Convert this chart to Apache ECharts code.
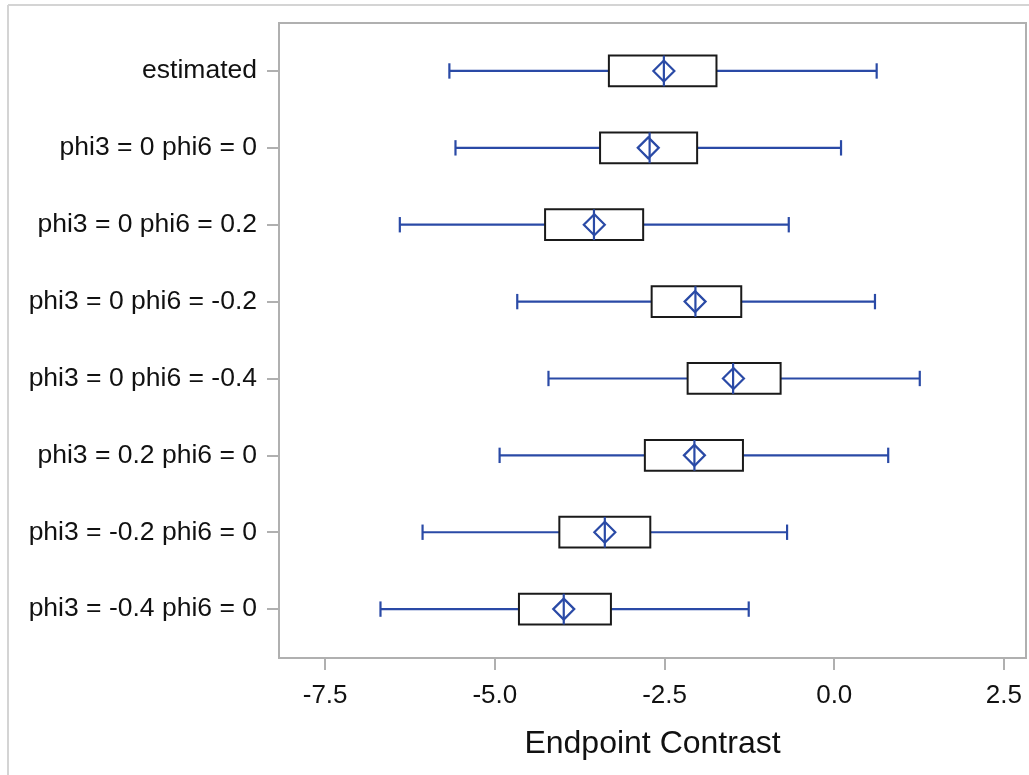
<!DOCTYPE html>
<html>
<head>
<meta charset="utf-8">
<script src="https://cdn.jsdelivr.net/npm/echarts@6/dist/echarts.min.js"></script>
<style>
html,body{margin:0;padding:0;background:#fff;}
#chart{width:1029px;height:775px;}
</style>
</head>
<body>
<div id="chart"></div>
<script>
// Categories (top to bottom)
var categories = [
  'estimated',
  'phi3 = 0 phi6 = 0',
  'phi3 = 0 phi6 = 0.2',
  'phi3 = 0 phi6 = -0.2',
  'phi3 = 0 phi6 = -0.4',
  'phi3 = 0.2 phi6 = 0',
  'phi3 = -0.2 phi6 = 0',
  'phi3 = -0.4 phi6 = 0'
];
// Box statistics per category
var whiskerLow  = [-5.67, -5.58, -6.40, -4.67, -4.21, -4.93, -6.065, -6.685];
var q1          = [-3.32, -3.45, -4.26, -2.69, -2.16, -2.79, -4.05, -4.645];
var median      = [-2.51, -2.72, -3.54, -2.045, -1.49, -2.06, -3.38, -3.985];
var q3          = [-1.735, -2.02, -2.815, -1.37, -0.79, -1.345, -2.71, -3.29];
var whiskerHigh = [0.625, 0.10, -0.67, 0.60, 1.26, 0.795, -0.695, -1.26];
var mean        = [-2.51, -2.74, -3.535, -2.05, -1.485, -2.06, -3.38, -3.985];
// Tick labels
var xTicks = [-7.5, -5.0, -2.5, 0.0, 2.5];
var yTicks = [0, 1, 2, 3, 4, 5, 6, 7];

var BLUE = '#2A4AA6';
var FRAME = '#b0b0b0';
var TEXT = '#111111';
var FONT = 'Liberation Sans, Arial, sans-serif';

var boxData = categories.map(function (c, i) {
  return [i, whiskerLow[i], q1[i], median[i], q3[i], whiskerHigh[i]];
});
var meanData = categories.map(function (c, i) { return [mean[i], i]; });

function renderBox(params, api) {
  var idx = api.value(0);
  var pLow = api.coord([api.value(1), idx]);
  var pQ1 = api.coord([api.value(2), idx]);
  var pMed = api.coord([api.value(3), idx]);
  var pQ3 = api.coord([api.value(4), idx]);
  var pHigh = api.coord([api.value(5), idx]);
  var boxH = api.size([0, 0.4])[1];
  var capH = api.size([0, 0.2])[1];
  var y = pQ1[1];
  var lineStyle = { stroke: BLUE, lineWidth: 2.2 };
  return {
    type: 'group',
    children: [
      { type: 'line', shape: { x1: pLow[0], y1: y, x2: pQ1[0], y2: y }, style: lineStyle },
      { type: 'line', shape: { x1: pQ3[0], y1: y, x2: pHigh[0], y2: y }, style: lineStyle },
      { type: 'line', shape: { x1: pLow[0], y1: y - capH / 2, x2: pLow[0], y2: y + capH / 2 }, style: lineStyle },
      { type: 'line', shape: { x1: pHigh[0], y1: y - capH / 2, x2: pHigh[0], y2: y + capH / 2 }, style: lineStyle },
      { type: 'rect', shape: { x: pQ1[0], y: y - boxH / 2, width: pQ3[0] - pQ1[0], height: boxH },
        style: { fill: 'rgba(255,255,255,0)', stroke: '#1a1a1a', lineWidth: 2 } },
      { type: 'line', shape: { x1: pMed[0], y1: y - boxH / 2, x2: pMed[0], y2: y + boxH / 2 }, style: lineStyle }
    ]
  };
}

var chart = echarts.init(document.getElementById('chart'), null, { renderer: 'canvas' });
chart.setOption({
  animation: false,
  backgroundColor: '#ffffff',
  textStyle: { fontFamily: FONT },
  graphic: [
    { type: 'line', shape: { x1: 8, y1: 5, x2: 1029, y2: 5 }, style: { stroke: '#d4d4d4', lineWidth: 2 } },
    { type: 'line', shape: { x1: 8, y1: 5, x2: 8, y2: 775 }, style: { stroke: '#d4d4d4', lineWidth: 2 } }
  ],
  grid: {
    left: 279, right: 3, top: 23, bottom: 117,
    show: true, borderColor: FRAME, borderWidth: 2,
    outerBoundsMode: 'none', containLabel: false
  },
  xAxis: {
    type: 'value',
    min: -8.18, max: 2.825,
    name: 'Endpoint Contrast',
    nameLocation: 'middle',
    nameGap: 70,
    nameTextStyle: { fontSize: 32, color: TEXT, fontFamily: FONT },
    axisLine: { show: true, onZero: false, lineStyle: { color: FRAME, width: 2 } },
    axisTick: { show: true, length: 12, customValues: xTicks, lineStyle: { color: FRAME, width: 2 } },
    axisLabel: { customValues: xTicks, margin: 25, fontSize: 26, color: TEXT, fontFamily: FONT,
      formatter: function (v) { return Number(v).toFixed(1); } },
    splitLine: { show: false }
  },
  yAxis: {
    type: 'value',
    inverse: true,
    min: -0.624, max: 7.636,
    axisLine: { show: true, onZero: false, lineStyle: { color: FRAME, width: 2 } },
    axisTick: { show: true, length: 12, customValues: yTicks, lineStyle: { color: FRAME, width: 2 } },
    axisLabel: { customValues: yTicks, margin: 22, fontSize: 26.5, color: TEXT, fontFamily: FONT,
      formatter: function (v) { return categories[Math.round(v)] || ''; } },
    splitLine: { show: false }
  },
  series: [
    {
      type: 'custom',
      renderItem: renderBox,
      data: boxData,
      encode: { x: [1, 2, 3, 4, 5], y: 0 },
      z: 2
    },
    {
      type: 'scatter',
      data: meanData,
      symbol: 'diamond',
      symbolSize: [21, 21],
      itemStyle: { color: 'rgba(255,255,255,0)', borderColor: BLUE, borderWidth: 2.2, opacity: 1 },
      z: 3
    }
  ]
});
</script>
</body>
</html>
